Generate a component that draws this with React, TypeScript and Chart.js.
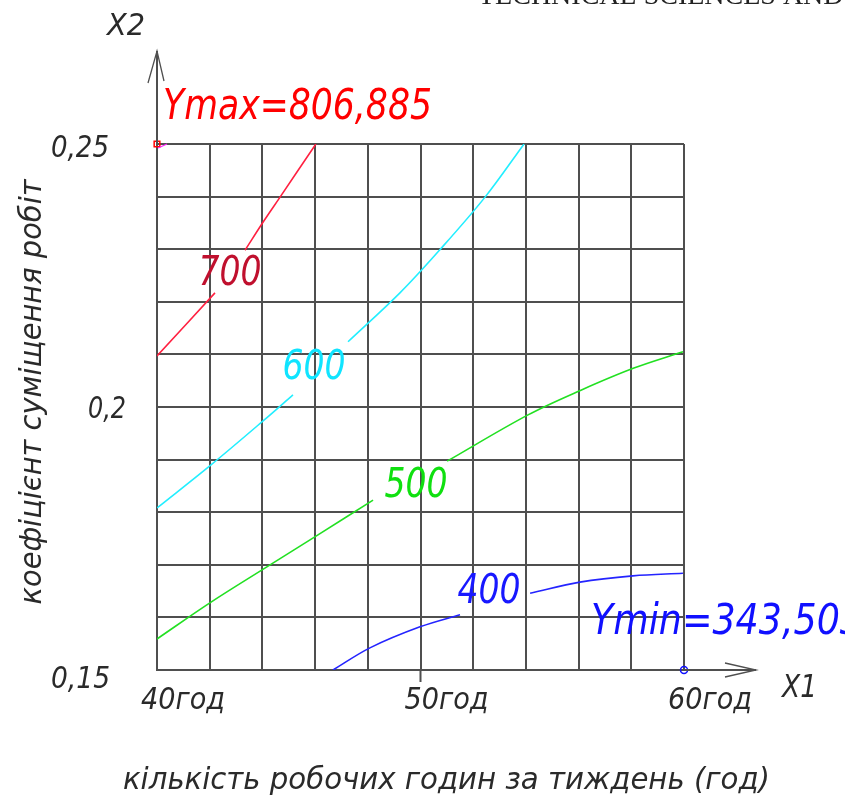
import React, { useEffect, useRef } from 'react';
import { Chart, registerables } from 'chart.js';

Chart.register(...registerables);

// ---- data ----
const xTickValues = [40, 50, 60];
const xTickLabels = ['40год', '50год', '60год'];
const yTickValues = [0.25, 0.2, 0.15];
const yTickLabels = ['0,25', '0,2', '0,15'];

const levelLabels = ['700', '600', '500', '400'];

// iso-lines (null = break where the level label sits)
const c700X = [40.0, 42.2, null, 43.34, 44.06, 44.67, 46.03];
const c700Y = [0.2097, 0.2217, null, 0.2298, 0.2354, 0.2399, 0.25];
const c600X = [40.0, 42.05, 44.06, 45.16, null, 47.25, 49.22, 50.7, 52.45, 53.93];
const c600Y = [0.1808, 0.189, 0.1975, 0.2023, null, 0.2124, 0.2217, 0.2297, 0.2399, 0.25];
const c500X = [40.0, 42.05, 44.17, 46.11, 48.2, null, 51.01, 54.08, 56.09, 58.1, 59.96];
const c500Y = [0.1559, 0.1629, 0.1696, 0.1757, 0.1823, null, 0.1897, 0.1985, 0.2032, 0.2074, 0.2105];
const c400X = [46.68, 48.08, 49.98, 51.5, null, 54.16, 56.05, 58.06, 59.96];
const c400Y = [0.15, 0.1542, 0.1582, 0.1605, null, 0.1646, 0.1667, 0.1679, 0.1684];

// level label anchors (data coords)
const labelX = [42.77, 45.96, 49.83, 52.6];
const labelY = [0.226, 0.2082, 0.1857, 0.1656];

const yMaxText = 'Ymax=806,885';
const yMaxPoint = { x: 40, y: 0.25 };
const yMinText = 'Ymin=343,503';
const yMinPoint = { x: 60, y: 0.15 };

const xAxisTitle = 'кількість робочих годин за тиждень (год)';
const yAxisTitle = 'коефіцієнт суміщення робіт';
const headerText = 'TECHNICAL SCIENCES AND TECHNOLOGIES';

// ---- styles ----
const FONT = "'Liberation Sans Narrow', 'DejaVu Sans Condensed', 'Liberation Sans', sans-serif";
const GRID = '#4f4f4f';
const TEXT = '#2a2a2a';
const lineColors = ['#ff2040', '#22eeff', '#22e022', '#2424ff'];
const labelColors = ['#c0102e', '#10e4ff', '#10e010', '#1818ff'];

function pts(xs: (number | null)[], ys: (number | null)[]) {
  return xs.map((x, i) => ({ x: x as number, y: ys[i] as number }));
}

function fitText(
  ctx: CanvasRenderingContext2D,
  text: string,
  x: number,
  y: number,
  size: number,
  width: number,
  color: string,
  align: 'left' | 'center' = 'left'
) {
  ctx.save();
  ctx.font = `italic ${size}px ${FONT}`;
  ctx.textBaseline = 'alphabetic';
  ctx.textAlign = 'left';
  const w = ctx.measureText(text).width;
  const sx = width / w;
  ctx.translate(x, y);
  ctx.scale(sx, 1);
  ctx.fillStyle = color;
  ctx.fillText(text, align === 'center' ? -w / 2 : 0, 0);
  ctx.restore();
}

const overlay = {
  id: 'overlay',
  afterDraw(chart: any) {
    const ctx: CanvasRenderingContext2D = chart.ctx;
    const xs = chart.scales.x;
    const ys = chart.scales.y;
    const a = chart.chartArea;
    ctx.save();

    // header remnant (page header cut at the top edge)
    ctx.font = "28px 'Liberation Serif', serif";
    ctx.fillStyle = '#222';
    ctx.textBaseline = 'alphabetic';
    ctx.fillText(headerText, 478, 4);

    // axis extensions
    ctx.strokeStyle = GRID;
    ctx.lineWidth = 2;
    ctx.beginPath();
    ctx.moveTo(a.left, a.top);
    ctx.lineTo(a.left, a.top - 93);
    ctx.moveTo(a.right, a.bottom);
    ctx.lineTo(a.right + 72, a.bottom);
    const x50 = xs.getPixelForValue(50);
    ctx.moveTo(x50, a.bottom);
    ctx.lineTo(x50, a.bottom + 12);
    ctx.stroke();

    // arrow heads
    ctx.lineWidth = 1.3;
    ctx.beginPath();
    const tipY = a.top - 93;
    ctx.moveTo(a.left - 9, tipY + 32);
    ctx.lineTo(a.left, tipY);
    ctx.lineTo(a.left + 7, tipY + 30);
    const tipX = a.right + 72;
    ctx.moveTo(tipX - 31, a.bottom - 7);
    ctx.lineTo(tipX, a.bottom);
    ctx.lineTo(tipX - 31, a.bottom + 7);
    ctx.stroke();

    // magenta tick at Ymax point
    ctx.strokeStyle = '#ff20ff';
    ctx.lineWidth = 1.2;
    ctx.beginPath();
    const mx = xs.getPixelForValue(yMaxPoint.x);
    const my = ys.getPixelForValue(yMaxPoint.y);
    ctx.moveTo(mx + 1, my + 4);
    ctx.lineTo(mx + 10, my);
    ctx.stroke();

    // axis names
    fitText(ctx, 'X2', 107, 35, 30, 38, TEXT);
    fitText(ctx, 'X1', 782, 697, 32, 35, TEXT);

    // tick labels
    const yLeft = [51, 88, 51];
    const yDy = [13, 11, 18];
    const yW = [58, 38, 59];
    yTickValues.forEach((v, i) => {
      fitText(ctx, yTickLabels[i], yLeft[i], ys.getPixelForValue(v) + yDy[i], 30, yW[i], TEXT);
    });
    xTickValues.forEach((v, i) => {
      fitText(ctx, xTickLabels[i], xs.getPixelForValue(v) - 16, a.bottom + 39, 30, 84, TEXT);
    });

    // titles
    fitText(ctx, xAxisTitle, 123, 789, 30, 647, TEXT);
    ctx.save();
    ctx.translate(41, 392);
    ctx.rotate(-Math.PI / 2);
    fitText(ctx, yAxisTitle, 0, 0, 30, 425, TEXT, 'center');
    ctx.restore();

    // level labels
    levelLabels.forEach((t, i) => {
      const px = xs.getPixelForValue(labelX[i]);
      const py = ys.getPixelForValue(labelY[i]);
      fitText(ctx, t, px, py + 15, 40, 63, labelColors[i], 'center');
    });

    // extreme values
    fitText(ctx, yMaxText, mx + 6, my - 25, 42, 269, '#ff0000');
    const nx = xs.getPixelForValue(yMinPoint.x);
    const ny = ys.getPixelForValue(yMinPoint.y);
    fitText(ctx, yMinText, nx - 93, ny - 36, 42, 272, '#1010ff');

    ctx.restore();
  },
};

export default function App() {
  const ref = useRef<HTMLCanvasElement | null>(null);

  useEffect(() => {
    if (!ref.current) return;
    const lineDs = (xsArr: any[], ysArr: any[], i: number) => ({
      type: 'scatter' as const,
      data: pts(xsArr, ysArr),
      showLine: true,
      spanGaps: false,
      borderColor: lineColors[i],
      backgroundColor: lineColors[i],
      borderWidth: 1.6,
      pointRadius: 0,
      tension: 0.35,
    });
    const chart = new Chart(ref.current, {
      type: 'scatter',
      data: {
        datasets: [
          lineDs(c700X, c700Y, 0),
          lineDs(c600X, c600Y, 1),
          lineDs(c500X, c500Y, 2),
          lineDs(c400X, c400Y, 3),
          {
            data: [yMaxPoint],
            pointStyle: 'rect',
            pointRadius: 4,
            borderColor: '#ff0000',
            backgroundColor: 'rgba(0,0,0,0)',
            borderWidth: 1.5,
            clip: false,
          } as any,
          {
            data: [yMinPoint],
            pointStyle: 'circle',
            pointRadius: 3.5,
            borderColor: '#1010ff',
            backgroundColor: 'rgba(0,0,0,0)',
            borderWidth: 1.5,
            clip: false,
          } as any,
        ],
      },
      options: {
        animation: false,
        responsive: false,
        layout: { padding: { left: 157, top: 144, right: 161, bottom: 126 } },
        plugins: { legend: { display: false }, tooltip: { enabled: false } },
        scales: {
          x: {
            type: 'linear',
            min: 40,
            max: 60,
            ticks: { stepSize: 2, display: false },
            grid: { color: GRID, lineWidth: 2, drawTicks: false },
            border: { color: GRID, width: 2 },
          },
          y: {
            type: 'linear',
            min: 0.15,
            max: 0.25,
            ticks: { stepSize: 0.01, display: false },
            grid: { color: GRID, lineWidth: 2, drawTicks: false },
            border: { color: GRID, width: 2 },
          },
        },
      },
      plugins: [overlay],
    });
    return () => chart.destroy();
  }, []);

  return (
    <div style={{ position: 'fixed', left: 0, top: 0, width: 845, height: 796, background: '#fff' }}>
      <canvas ref={ref} width={845} height={796} />
    </div>
  );
}
